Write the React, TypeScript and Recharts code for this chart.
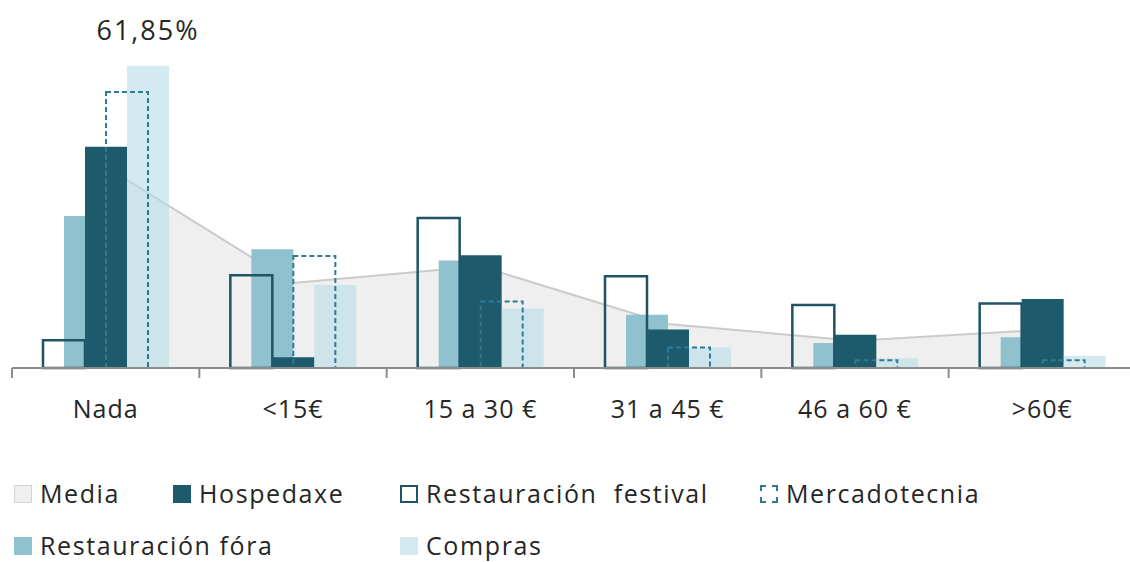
import React from 'react';
import { ComposedChart, Bar, Area, XAxis, YAxis, Legend, LabelList } from 'recharts';

const categories = ['Nada', '<15€', '15 a 30 €', '31 a 45 €', '46 a 60 €', '>60€'];
const media = [41.2, 17.4, 20.8, 9.0, 5.6, 7.8];
const hospedaxe = [45.3, 2.2, 23.1, 7.9, 6.8, 14.1];
const restFestival = [5.7, 19.0, 30.7, 18.8, 12.9, 13.2];
const mercadotecnia = [56.5, 22.9, 13.6, 4.2, 1.6, 1.6];
const restFora = [31.1, 24.3, 22.0, 10.9, 5.1, 6.3];
const compras = [61.85, 17.0, 12.2, 4.2, 2.0, 2.5];
const comprasLabels = ['61,85%', '', '', '', '', ''];
const seriesNames = ['Media', 'Hospedaxe', 'Restauración  festival', 'Mercadotecnia', 'Restauración fóra', 'Compras'];

const data = categories.map((name, i) => ({
  name,
  media: media[i],
  hospedaxe: hospedaxe[i],
  restFestival: restFestival[i],
  mercadotecnia: mercadotecnia[i],
  restFora: restFora[i],
  compras: compras[i],
  comprasLabel: comprasLabels[i],
}));

const FONT = '"Open Sans", "Noto Sans", sans-serif';
const TEXT = '#262626';
const C_HOSP = '#1d5a6c';
const C_FEST = '#1e5465';
const C_MERC = '#2f7b95';
const C_FORA = '#8fc1cf';
const C_COMP = '#b8dce7';
const C_AREA = '#efefef';
const C_LINE = '#cbcbcb';
const C_AXIS = '#8c8c8c';

const renderTick = (props: any) => {
  const { x, y, payload } = props;
  const half = payload && payload.offset ? payload.offset : 0;
  return (
    <g>
      <line x1={x - half} x2={x - half} y1={y} y2={y + 10} stroke={C_AXIS} strokeWidth={2} />
      <text x={x} y={y + 50} textAnchor="middle" fill={TEXT} fontFamily={FONT} fontSize={25} letterSpacing={1}>
        {payload.value}
      </text>
    </g>
  );
};

const iconStyles: React.CSSProperties[] = [
  { background: C_AREA, border: '1px solid #d4d4d4' },
  { background: C_HOSP },
  { background: '#fff', border: `2px solid ${C_FEST}` },
  { background: 'transparent', border: `2px dashed ${C_MERC}` },
  { background: C_FORA },
  { background: '#d4eaf0' },
];
const legendPos = [
  { left: 14, top: 0 },
  { left: 173, top: 0 },
  { left: 400, top: 0 },
  { left: 760, top: 0 },
  { left: 14, top: 52 },
  { left: 400, top: 52 },
];

const LegendContent = () => (
  <div style={{ position: 'relative', width: 1130, height: 92 }}>
    {seriesNames.map((n, i) => (
      <div key={n} style={{ position: 'absolute', left: legendPos[i].left, top: legendPos[i].top + 10, height: 26, display: 'flex', alignItems: 'flex-start' }}>
        <div style={{ width: 18, height: 18, boxSizing: 'border-box', marginRight: 8, marginTop: 5, ...iconStyles[i] }} />
        <span style={{ fontFamily: FONT, fontSize: 25, lineHeight: '26px', color: TEXT, whiteSpace: 'pre', letterSpacing: 1.6 }}>{n}</span>
      </div>
    ))}
  </div>
);

export default function App() {
  return (
    <div style={{ position: 'absolute', left: 0, top: 0, width: 1130, height: 562, overflow: 'hidden', background: '#fff' }}>
      <ComposedChart
        width={1140}
        height={562}
        data={data}
        margin={{ top: 26, right: 4, left: 12, bottom: 164 }}
        barSize={42}
        barGap={0}
      >
        <XAxis
          xAxisId="a"
          dataKey="name"
          height={30}
          axisLine={{ stroke: C_AXIS, strokeWidth: 2 }}
          tickLine={false}
          tickSize={0}
          tickMargin={0}
          tick={renderTick}
          interval={0}
        />
        <XAxis xAxisId="z" dataKey="name" height={0} hide />
        <YAxis domain={[0, 70]} hide />
        <Legend
          layout="horizontal"
          verticalAlign="middle"
          align="center"
          content={<LegendContent />}
          wrapperStyle={{ position: 'absolute', left: 0, top: 470, width: 1130, height: 92 }}
        />
        <Area
          xAxisId="a"
          type="linear"
          dataKey="media"
          fill={C_AREA}
          fillOpacity={1}
          stroke={C_LINE}
          strokeWidth={2}
          dot={false}
          activeDot={false}
          isAnimationActive={false}
        />
        <Bar xAxisId="z" dataKey="restFora" fill={C_FORA} isAnimationActive={false} />
        <Bar xAxisId="a" dataKey="restFestival" fill="none" stroke={C_FEST} strokeWidth={2.5} isAnimationActive={false} />
        <Bar xAxisId="a" dataKey="hospedaxe" fill={C_HOSP} isAnimationActive={false} />
        <Bar xAxisId="a" dataKey="compras" fill={C_COMP} fillOpacity={0.6} isAnimationActive={false}>
          <LabelList dataKey="comprasLabel" position="top" offset={26} fill={TEXT} fontFamily={FONT} fontSize={27} letterSpacing={2} />
        </Bar>
        <Bar xAxisId="z" dataKey="mercadotecnia" fill="none" stroke={C_MERC} strokeWidth={2} strokeDasharray="5 3" isAnimationActive={false} />
      </ComposedChart>
    </div>
  );
}
